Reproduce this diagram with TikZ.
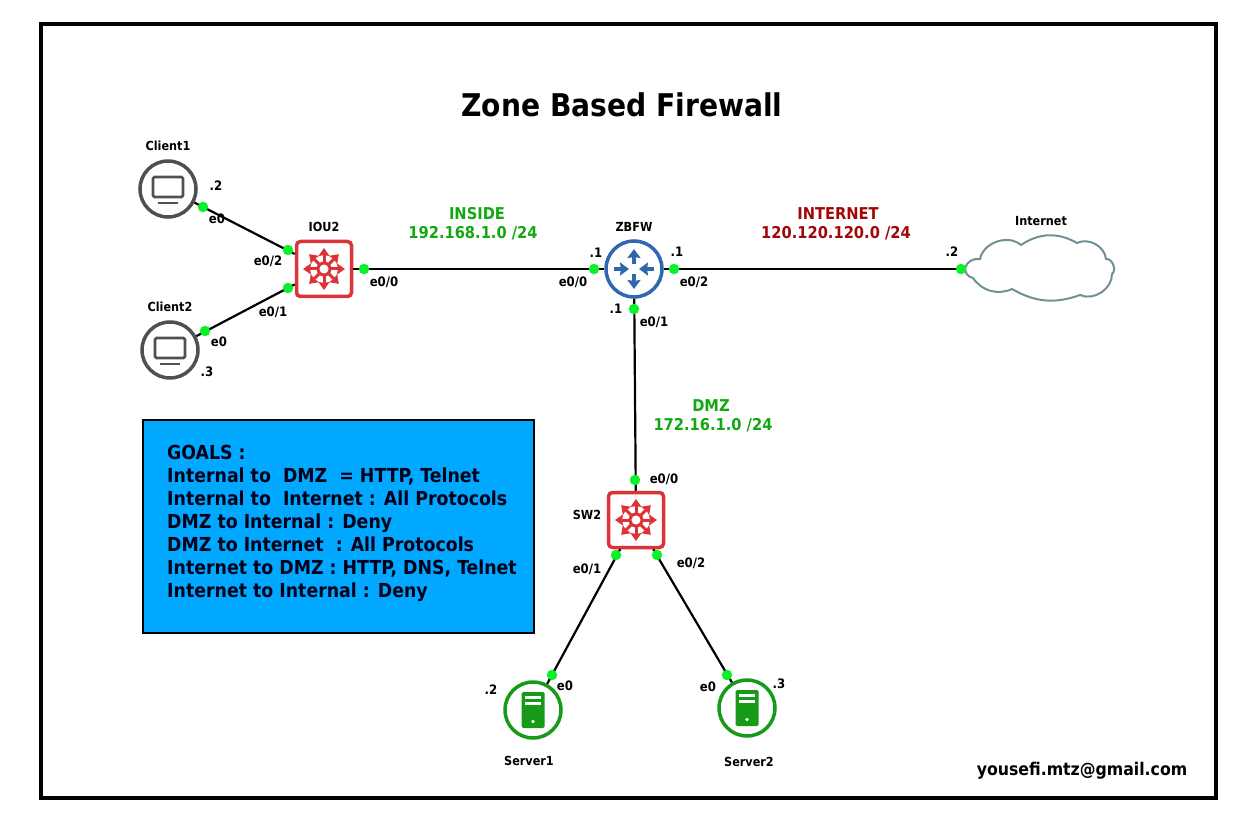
\documentclass[tikz,border=0pt]{standalone}
\usepackage{fontspec}
\setmainfont{DejaVu Sans Condensed}
\usepackage{xcolor}
\usetikzlibrary{arrows.meta,positioning,shapes}

\definecolor{swred}{HTML}{DC3338}
\definecolor{fwblue}{HTML}{2F68AE}
\definecolor{srvgreen}{HTML}{179A17}
\definecolor{pcgray}{HTML}{505050}
\definecolor{portgreen}{HTML}{0CF02A}
\definecolor{netgreen}{HTML}{12A812}
\definecolor{netred}{HTML}{A00808}
\definecolor{cloudgray}{HTML}{6F9094}
\definecolor{goalblue}{HTML}{00A8FF}

\tikzset{
    switchicon/.pic={
        \draw[swred, line width=3pt] (0,0) circle (6);
        \foreach \ang in {0,45,...,315}
            \draw[swred, line width=3pt, -{Stealth[length=8pt,width=11pt,inset=1pt]}] (\ang:6) -- (\ang:21);
    },
    routericon/.pic={
        \foreach \ang in {90,270}
            \draw[fwblue, line width=3.4pt, -{Stealth[length=9pt,width=13pt,inset=1pt]}] (\ang:5) -- (\ang:20);
        \foreach \ang in {0,180}
            \draw[fwblue, line width=3.4pt, -{Stealth[length=9pt,width=13pt,inset=1pt]}] (\ang:20) -- (\ang:5);
    },
    pcicon/.pic={
        \draw[pcgray, line width=2.8pt, rounded corners=1.5pt] (-15,-12) rectangle (15,8);
        \draw[pcgray, line width=2.8pt] (-10,14) -- (10,14);
    },
    servericon/.pic={
        \fill[srvgreen, rounded corners=1.5pt] (-11.5,-18) rectangle (11.5,18);
        \fill[white] (-8,-14.5) rectangle (8,-11);
        \fill[white] (-8,-8.5) rectangle (8,-5);
        \fill[white] (0,11.5) circle (1.8);
    }
}

\begin{document}
\begin{tikzpicture}[
    x=1pt, y=-1pt,
    switch/.style={rectangle, draw=swred, fill=white, line width=3.5pt, rounded corners=4pt, minimum size=55pt, inner sep=0pt},
    firewall/.style={circle, draw=fwblue, fill=white, line width=3.5pt, minimum size=56pt, inner sep=0pt},
    client/.style={circle, draw=pcgray, fill=white, line width=3.5pt, minimum size=56pt, inner sep=0pt},
    server/.style={circle, draw=srvgreen, fill=white, line width=3.5pt, minimum size=56pt, inner sep=0pt},
    link/.style={line width=2.2pt, black},
    port/.style={circle, fill=portgreen, minimum size=10.5pt, inner sep=0pt},
    lbl/.style={font=\fontsize{13}{15}\selectfont\bfseries, inner sep=0pt},
    devname/.style={font=\fontsize{12.5}{14}\selectfont\bfseries, inner sep=0pt},
    netlbl/.style={font=\fontsize{16.3}{18}\selectfont\bfseries, inner sep=0pt},
]

\useasboundingbox (0,0) rectangle (1235,821);

% Frame and title
\draw[line width=4.5pt] (41,24) rectangle (1216,798);
\node[inner sep=0pt, font=\fontsize{31.3}{36}\selectfont\bfseries] (title) at (622,105) {Zone Based Firewall};
\node[inner sep=0pt, font=\fontsize{17.5}{20}\selectfont\bfseries] (mail) at (1082,771) {yousefi.mtz@gmail.com};

% Devices
\node[client] (client1) at (168,189) {};
\node[client] (client2) at (170,350) {};
\node[switch] (iou2) at (324,269) {};
\node[firewall] (zbfw) at (634,269) {};
\node[switch] (sw2) at (636,520) {};
\node[server] (server1) at (533,710) {};
\node[server] (server2) at (747,708) {};
\coordinate (internet) at (961,269);

\pic at (client1) {pcicon};
\pic at (client2) {pcicon};
\pic at (iou2) {switchicon};
\pic at (zbfw) {routericon};
\pic at (sw2) {switchicon};
\pic at (server1) {servericon};
\pic at (server2) {servericon};

% Internet cloud
\draw[cloudgray, line width=2pt] (965,268) to[bend left=40] (980,259)
    to[bend left=60] (1021,245) to[bend left=32] (1077,243)
    to[bend left=55] (1106,259) to[bend left=75] (1112,274)
    to[bend left=58] (1080,295) to[bend left=25] (1012,289)
    to[bend left=40] (973,278) to[bend left=40] cycle;

% Links
\draw[link] (client1) -- (iou2);
\draw[link] (client2) -- (iou2);
\draw[link] (iou2) -- (zbfw);
\draw[link] (zbfw) -- (internet);
\draw[link] (zbfw) -- (sw2);
\draw[link] (sw2) -- (server1);
\draw[link] (sw2) -- (server2);

% Ports
\node[port] (pc1) at (203,207) {};
\node[port] (pc2) at (205,331) {};
\node[port] (piou2a) at (288,250) {};
\node[port] (piou2b) at (288,288) {};
\node[port] (piou2c) at (364,269) {};
\node[port] (pzbfwa) at (594,269) {};
\node[port] (pzbfwb) at (674,269) {};
\node[port] (pzbfwc) at (634,309) {};
\node[port] (pnet) at (961,269) {};
\node[port] (psw2a) at (635,480) {};
\node[port] (psw2b) at (616,555) {};
\node[port] (psw2c) at (657,555) {};
\node[port] (psrv1) at (552,675) {};
\node[port] (psrv2) at (727,675) {};

% Device names
\node[devname] (nclient1) at (168,146) {Client1};
\node[devname] (nclient2) at (170,307) {Client2};
\node[devname] (niou2) at (324,227) {IOU2};
\node[devname] (nzbfw) at (634,227) {ZBFW};
\node[devname] (nnet) at (1041,221) {Internet};
\node[devname] (nsw2) at (587,515) {SW2};
\node[devname] (nserver1) at (529,761) {Server1};
\node[devname] (nserver2) at (749,762) {Server2};

% Interface labels
\node[lbl] (l1) at (216,186) {.2};
\node[lbl] (l2) at (217,219) {e0};
\node[lbl] (l3) at (268,261) {e0/2};
\node[lbl] (l4) at (273,312) {e0/1};
\node[lbl] (l5) at (219,342) {e0};
\node[lbl] (l6) at (207,372) {.3};
\node[lbl] (l7) at (384,282) {e0/0};
\node[lbl] (l8) at (596,253) {.1};
\node[lbl] (l9) at (573,282) {e0/0};
\node[lbl] (l10) at (677,252) {.1};
\node[lbl] (l11) at (694,282) {e0/2};
\node[lbl] (l12) at (616,309) {.1};
\node[lbl] (l13) at (654,322) {e0/1};
\node[lbl] (l14) at (952,252) {.2};
\node[lbl] (l15) at (664,479) {e0/0};
\node[lbl] (l16) at (587,569) {e0/1};
\node[lbl] (l17) at (691,563) {e0/2};
\node[lbl] (l18) at (491,690) {.2};
\node[lbl] (l19) at (565,686) {e0};
\node[lbl] (l20) at (708,687) {e0};
\node[lbl] (l21) at (779,684) {.3};

% Networks
\node[netlbl, text=netgreen] (inside) at (477,214) {INSIDE};
\node[netlbl, text=netgreen] (insidenet) at (473,233) {192.168.1.0 /24};
\node[netlbl, text=netred] (outside) at (838,214) {INTERNET};
\node[netlbl, text=netred] (outsidenet) at (836,233) {120.120.120.0 /24};
\node[netlbl, text=netgreen] (dmz) at (711,406) {DMZ};
\node[netlbl, text=netgreen] (dmznet) at (713,425) {172.16.1.0 /24};

% Goals
\node[rectangle, draw=black, line width=2pt, fill=goalblue, minimum width=391pt, minimum height=213pt] (goals) at (338.5,526.5) {};
\node[inner sep=0pt, anchor=west, align=left, font=\fontsize{19.3}{23}\selectfont\bfseries, text=black!90!blue] (goalstext) at (167,523) {%
GOALS :\\
Internal to\ \ DMZ\ \ = HTTP, Telnet\\
Internal to\ \ Internet : All Protocols\\
DMZ to Internal : Deny\\
DMZ to Internet\ \ : All Protocols\\
Internet to DMZ : HTTP, DNS, Telnet\\
Internet to Internal : Deny};

\end{tikzpicture}
\end{document}
